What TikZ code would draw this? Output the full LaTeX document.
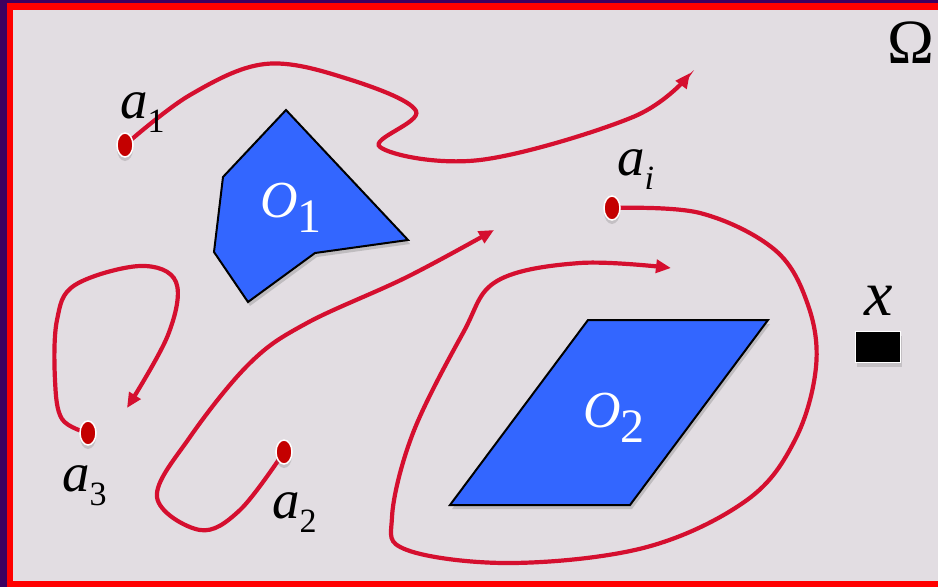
\documentclass[tikz,border=0pt]{standalone}
\usepackage{fontspec}
\setmainfont{Liberation Serif}
\newfontfamily\itfont{Liberation Serif Italic}
\usetikzlibrary{arrows.meta,shadows,shapes.geometric}

\definecolor{frameviolet}{HTML}{3C0060}
\definecolor{framered}{HTML}{FF0000}
\definecolor{paper}{HTML}{E2DDE2}
\definecolor{pathred}{HTML}{D50F2F}
\definecolor{dotred}{HTML}{C40000}
\definecolor{obsblue}{HTML}{3366FF}

\pgfdeclarelayer{bg}
\pgfdeclarelayer{paths}
\pgfsetlayers{bg,paths,main}

\newcommand{\agent}[1]{{\itfont a}\raisebox{-14pt}{\fontsize{34}{34}\selectfont #1}}
\newcommand{\obst}[1]{{\itfont O}\raisebox{-15pt}{\fontsize{48}{48}\selectfont #1}}

\begin{document}
\begin{tikzpicture}[x=1pt, y=-1pt,
    dot/.style={ellipse, minimum width=16pt, minimum height=24pt, inner sep=0pt,
        fill=dotred, draw=white, line width=1.5pt,
        drop shadow={opacity=0.3, shadow xshift=0pt, shadow yshift=-4pt}},
    track/.style={pathred, line width=4.2pt, -{Triangle[length=15pt,width=13pt]}},
    obstacle/.style={fill=obsblue, draw=black, line width=2pt, line join=miter,
        drop shadow={opacity=0.35, shadow xshift=2pt, shadow yshift=-4pt}},
    lab/.style={inner sep=0pt, anchor=base west, font=\fontsize{55}{60}\selectfont},
    obslab/.style={inner sep=0pt, anchor=base west, text=white, font=\fontsize{52}{56}\selectfont}]
\useasboundingbox (0,0) rectangle (938,587);

    % Frame
    \begin{pgfonlayer}{bg}
    \fill[frameviolet] (0,0) rectangle (938,587);
    \fill[framered] (7,3) rectangle (938,587);
    \fill[paper] (13,10) rectangle (938,581);
    \end{pgfonlayer}

    % Obstacles
    \draw[obstacle] (286,110) -- (408,240) -- (315,253) -- (248,302) -- (214,252) -- (223,177) -- cycle;
    \node[obslab] (o1) at (260,217) {\obst{1}};

    \draw[obstacle] (588,320) -- (768,320) -- (630,505) -- (450,505) -- cycle;
    \node[obslab] (o2) at (583,427) {\obst{2}};

    % Target x
    \node[inner sep=0pt, minimum width=45pt, minimum height=31pt, fill=black, draw=white,
        line width=1.5pt, drop shadow={opacity=0.3, shadow xshift=1pt, shadow yshift=-4pt}]
        (xbox) at (878,347) {};
    \node[lab, font=\fontsize{64}{70}\selectfont] (xlab) at (864,315) {{\itfont x}};

    % Domain
    \node[lab, font=\fontsize{63}{70}\selectfont] (omega) at (887,63) {Ω};

    % Agents
    \node[dot] (a1) at (125,145) {};
    \node[dot] (a2) at (284,452) {};
    \node[dot] (a3) at (88,433) {};
    \node[dot] (ai) at (612,208) {};

    \node[lab] (l1) at (120,118) {\agent{1}};
    \node[lab] (l2) at (272,518) {\agent{2}};
    \node[lab] (l3) at (62,491) {\agent{3}};
    \node[lab] (li) at (617,175) {\agent{{\itfont i}}};

    % Paths
    \coordinate (e1) at (690,73);
    \coordinate (e2) at (494,230);
    \coordinate (e3) at (127,408);
    \coordinate (ei) at (671,268);

    \begin{pgfonlayer}{paths}
    \draw[track] plot[smooth, tension=0.6] coordinates {(a1.center) (190,95) (265,64) (345,78)
        (416,111) (380,147) (480,160) (633,117) (e1)};
    \draw[track] plot[smooth, tension=0.6] coordinates {(a2.center) (240,510) (200,530) (157,497)
        (190,437) (250,363) (307,323) (407,277) (e2)};
    \draw[track] plot[smooth, tension=0.6] coordinates {(a3.center) (62,419) (55,380) (57,320)
        (75,285) (140,266) (176,282) (168,335) (e3)};
    \draw[track] plot[smooth, tension=0.6] coordinates {(ai.center) (700,213) (775,250) (808,305)
        (816,367) (795,440) (747,500) (647,547) (513,563) (407,550) (392,517) (413,433)
        (463,333) (497,281) (580,263) (ei)};
    \end{pgfonlayer}

\end{tikzpicture}
\end{document}
